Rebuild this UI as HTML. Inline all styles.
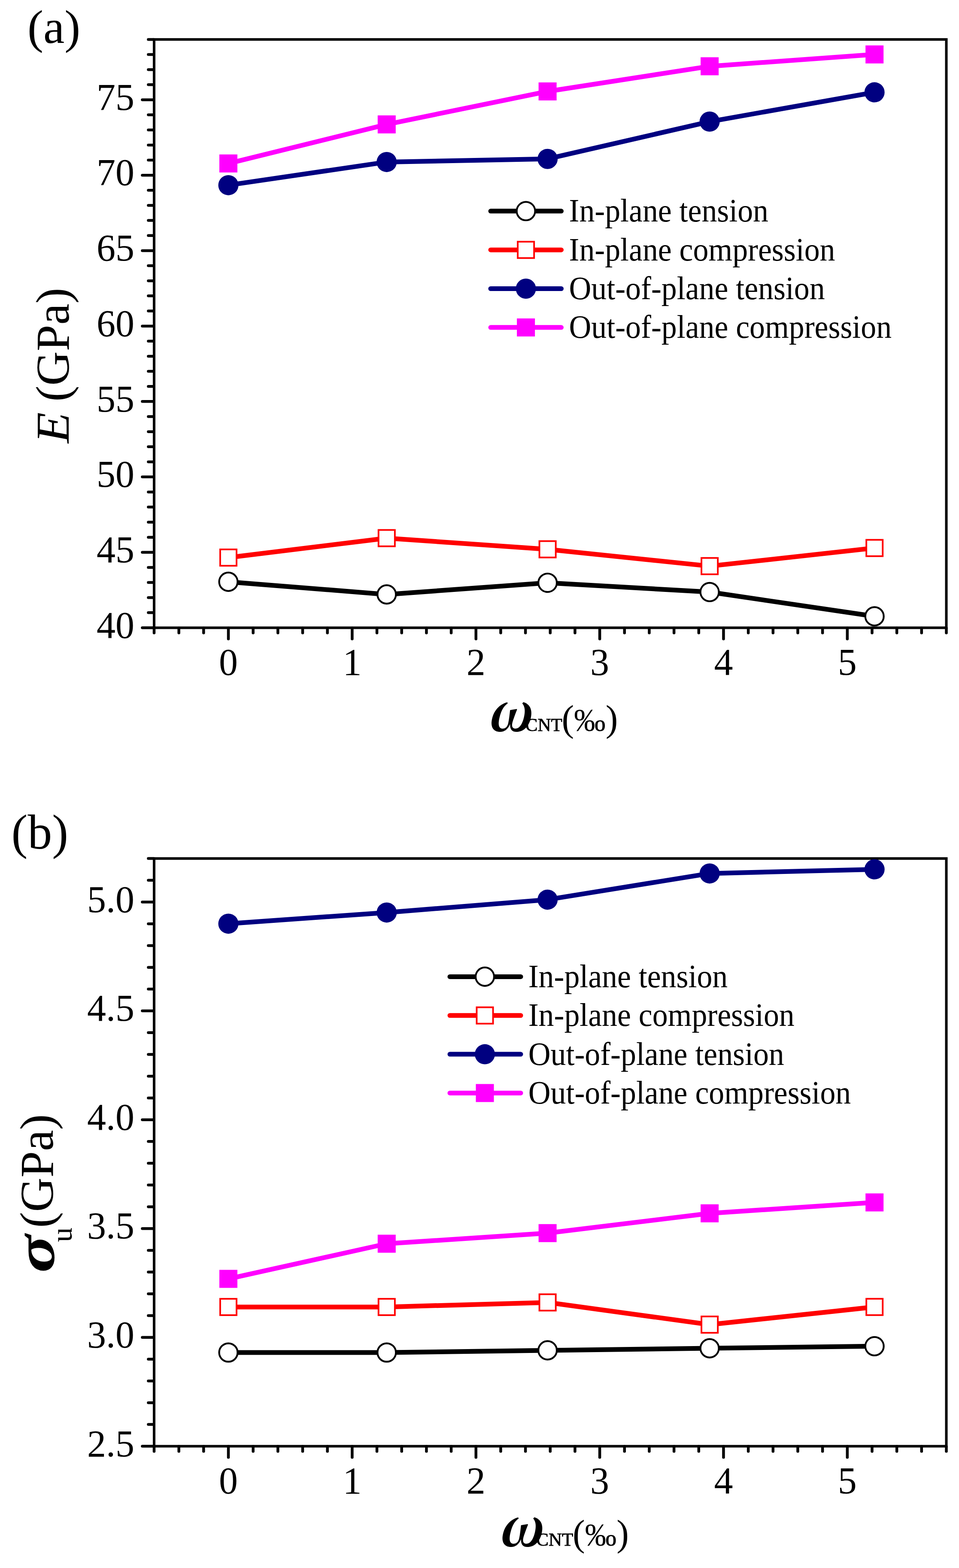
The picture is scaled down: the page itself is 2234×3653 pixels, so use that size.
<!DOCTYPE html><html><head><meta charset="utf-8"><title>Figure</title><style>html,body{margin:0;padding:0;background:#fff;overflow:hidden}svg{display:block}text{font-family:'Liberation Serif','Times New Roman',serif;fill:#000}.tl{font-size:88px} .lg{font-size:71.8px}.tk{stroke:#000;stroke-width:6.5;stroke-linecap:round}.ax{fill:none;stroke:#000;stroke-width:6}</style></head><body>
<svg width="2234" height="3653" viewBox="0 0 2234 3653">
<rect width="2234" height="3653" fill="#fff"/>
<text x="64" y="100.4" style="font-size:111px">(a)</text>
<line x1="358.5" y1="1462.5" x2="331.5" y2="1462.5" class="tk"/>
<line x1="358.5" y1="1427.36" x2="345.5" y2="1427.36" class="tk"/>
<line x1="358.5" y1="1392.21" x2="345.5" y2="1392.21" class="tk"/>
<line x1="358.5" y1="1357.07" x2="345.5" y2="1357.07" class="tk"/>
<line x1="358.5" y1="1321.93" x2="345.5" y2="1321.93" class="tk"/>
<line x1="358.5" y1="1286.78" x2="331.5" y2="1286.78" class="tk"/>
<line x1="358.5" y1="1251.64" x2="345.5" y2="1251.64" class="tk"/>
<line x1="358.5" y1="1216.49" x2="345.5" y2="1216.49" class="tk"/>
<line x1="358.5" y1="1181.35" x2="345.5" y2="1181.35" class="tk"/>
<line x1="358.5" y1="1146.21" x2="345.5" y2="1146.21" class="tk"/>
<line x1="358.5" y1="1111.06" x2="331.5" y2="1111.06" class="tk"/>
<line x1="358.5" y1="1075.92" x2="345.5" y2="1075.92" class="tk"/>
<line x1="358.5" y1="1040.78" x2="345.5" y2="1040.78" class="tk"/>
<line x1="358.5" y1="1005.63" x2="345.5" y2="1005.63" class="tk"/>
<line x1="358.5" y1="970.49" x2="345.5" y2="970.49" class="tk"/>
<line x1="358.5" y1="935.35" x2="331.5" y2="935.35" class="tk"/>
<line x1="358.5" y1="900.2" x2="345.5" y2="900.2" class="tk"/>
<line x1="358.5" y1="865.06" x2="345.5" y2="865.06" class="tk"/>
<line x1="358.5" y1="829.92" x2="345.5" y2="829.92" class="tk"/>
<line x1="358.5" y1="794.77" x2="345.5" y2="794.77" class="tk"/>
<line x1="358.5" y1="759.63" x2="331.5" y2="759.63" class="tk"/>
<line x1="358.5" y1="724.48" x2="345.5" y2="724.48" class="tk"/>
<line x1="358.5" y1="689.34" x2="345.5" y2="689.34" class="tk"/>
<line x1="358.5" y1="654.2" x2="345.5" y2="654.2" class="tk"/>
<line x1="358.5" y1="619.05" x2="345.5" y2="619.05" class="tk"/>
<line x1="358.5" y1="583.91" x2="331.5" y2="583.91" class="tk"/>
<line x1="358.5" y1="548.77" x2="345.5" y2="548.77" class="tk"/>
<line x1="358.5" y1="513.62" x2="345.5" y2="513.62" class="tk"/>
<line x1="358.5" y1="478.48" x2="345.5" y2="478.48" class="tk"/>
<line x1="358.5" y1="443.34" x2="345.5" y2="443.34" class="tk"/>
<line x1="358.5" y1="408.19" x2="331.5" y2="408.19" class="tk"/>
<line x1="358.5" y1="373.05" x2="345.5" y2="373.05" class="tk"/>
<line x1="358.5" y1="337.91" x2="345.5" y2="337.91" class="tk"/>
<line x1="358.5" y1="302.76" x2="345.5" y2="302.76" class="tk"/>
<line x1="358.5" y1="267.62" x2="345.5" y2="267.62" class="tk"/>
<line x1="358.5" y1="232.47" x2="331.5" y2="232.47" class="tk"/>
<line x1="358.5" y1="197.33" x2="345.5" y2="197.33" class="tk"/>
<line x1="358.5" y1="162.19" x2="345.5" y2="162.19" class="tk"/>
<line x1="358.5" y1="127.04" x2="345.5" y2="127.04" class="tk"/>
<line x1="358.5" y1="91.9" x2="345.5" y2="91.9" class="tk"/>
<line x1="359" y1="1463" x2="359" y2="1474.5" class="tk"/>
<line x1="416.67" y1="1463" x2="416.67" y2="1474.5" class="tk"/>
<line x1="474.34" y1="1463" x2="474.34" y2="1474.5" class="tk"/>
<line x1="532.02" y1="1463" x2="532.02" y2="1488.5" class="tk"/>
<line x1="589.69" y1="1463" x2="589.69" y2="1474.5" class="tk"/>
<line x1="647.36" y1="1463" x2="647.36" y2="1474.5" class="tk"/>
<line x1="705.03" y1="1463" x2="705.03" y2="1474.5" class="tk"/>
<line x1="762.7" y1="1463" x2="762.7" y2="1474.5" class="tk"/>
<line x1="820.38" y1="1463" x2="820.38" y2="1488.5" class="tk"/>
<line x1="878.05" y1="1463" x2="878.05" y2="1474.5" class="tk"/>
<line x1="935.72" y1="1463" x2="935.72" y2="1474.5" class="tk"/>
<line x1="993.39" y1="1463" x2="993.39" y2="1474.5" class="tk"/>
<line x1="1051.06" y1="1463" x2="1051.06" y2="1474.5" class="tk"/>
<line x1="1108.73" y1="1463" x2="1108.73" y2="1488.5" class="tk"/>
<line x1="1166.41" y1="1463" x2="1166.41" y2="1474.5" class="tk"/>
<line x1="1224.08" y1="1463" x2="1224.08" y2="1474.5" class="tk"/>
<line x1="1281.75" y1="1463" x2="1281.75" y2="1474.5" class="tk"/>
<line x1="1339.42" y1="1463" x2="1339.42" y2="1474.5" class="tk"/>
<line x1="1397.09" y1="1463" x2="1397.09" y2="1488.5" class="tk"/>
<line x1="1454.77" y1="1463" x2="1454.77" y2="1474.5" class="tk"/>
<line x1="1512.44" y1="1463" x2="1512.44" y2="1474.5" class="tk"/>
<line x1="1570.11" y1="1463" x2="1570.11" y2="1474.5" class="tk"/>
<line x1="1627.78" y1="1463" x2="1627.78" y2="1474.5" class="tk"/>
<line x1="1685.45" y1="1463" x2="1685.45" y2="1488.5" class="tk"/>
<line x1="1743.13" y1="1463" x2="1743.13" y2="1474.5" class="tk"/>
<line x1="1800.8" y1="1463" x2="1800.8" y2="1474.5" class="tk"/>
<line x1="1858.47" y1="1463" x2="1858.47" y2="1474.5" class="tk"/>
<line x1="1916.14" y1="1463" x2="1916.14" y2="1474.5" class="tk"/>
<line x1="1973.81" y1="1463" x2="1973.81" y2="1488.5" class="tk"/>
<line x1="2031.48" y1="1463" x2="2031.48" y2="1474.5" class="tk"/>
<line x1="2089.16" y1="1463" x2="2089.16" y2="1474.5" class="tk"/>
<line x1="2146.83" y1="1463" x2="2146.83" y2="1474.5" class="tk"/>
<line x1="2204.5" y1="1463" x2="2204.5" y2="1474.5" class="tk"/>
<rect x="359" y="91.9" width="1845.5" height="1370.6" class="ax"/>
<text x="313" y="1485.7" class="tl" text-anchor="end">40</text>
<text x="313" y="1309.98" class="tl" text-anchor="end">45</text>
<text x="313" y="1134.26" class="tl" text-anchor="end">50</text>
<text x="313" y="958.55" class="tl" text-anchor="end">55</text>
<text x="313" y="782.83" class="tl" text-anchor="end">60</text>
<text x="313" y="607.11" class="tl" text-anchor="end">65</text>
<text x="313" y="431.39" class="tl" text-anchor="end">70</text>
<text x="313" y="255.67" class="tl" text-anchor="end">75</text>
<text x="532.02" y="1572" class="tl" text-anchor="middle">0</text>
<text x="820.38" y="1572" class="tl" text-anchor="middle">1</text>
<text x="1108.73" y="1572" class="tl" text-anchor="middle">2</text>
<text x="1397.09" y="1572" class="tl" text-anchor="middle">3</text>
<text x="1685.45" y="1572" class="tl" text-anchor="middle">4</text>
<text x="1973.81" y="1572" class="tl" text-anchor="middle">5</text>
<path d="M532,1355.4 L900.8,1384.9 L1275.6,1357.7 L1653.1,1379.3 L2037.2,1435.9" fill="none" stroke="#000" stroke-width="11" stroke-linejoin="round"/>
<circle cx="532" cy="1355.4" r="21.45" fill="#fff" stroke="#000" stroke-width="4.2"/>
<circle cx="900.8" cy="1384.9" r="21.45" fill="#fff" stroke="#000" stroke-width="4.2"/>
<circle cx="1275.6" cy="1357.7" r="21.45" fill="#fff" stroke="#000" stroke-width="4.2"/>
<circle cx="1653.1" cy="1379.3" r="21.45" fill="#fff" stroke="#000" stroke-width="4.2"/>
<circle cx="2037.2" cy="1435.9" r="21.45" fill="#fff" stroke="#000" stroke-width="4.2"/>
<path d="M532,1299 L900.8,1253.7 L1275.6,1279.7 L1653.1,1318.9 L2037.2,1276.7" fill="none" stroke="#f00" stroke-width="11" stroke-linejoin="round"/>
<rect x="512.95" y="1279.95" width="38.1" height="38.1" fill="#fff" stroke="#f00" stroke-width="3.9"/>
<rect x="881.75" y="1234.65" width="38.1" height="38.1" fill="#fff" stroke="#f00" stroke-width="3.9"/>
<rect x="1256.55" y="1260.65" width="38.1" height="38.1" fill="#fff" stroke="#f00" stroke-width="3.9"/>
<rect x="1634.05" y="1299.85" width="38.1" height="38.1" fill="#fff" stroke="#f00" stroke-width="3.9"/>
<rect x="2018.15" y="1257.65" width="38.1" height="38.1" fill="#fff" stroke="#f00" stroke-width="3.9"/>
<path d="M532,431.4 L900.8,377.4 L1275.6,370.2 L1653.1,283.3 L2037.2,215.1" fill="none" stroke="#000080" stroke-width="11" stroke-linejoin="round"/>
<circle cx="532" cy="431.4" r="23.5" fill="#000080"/>
<circle cx="900.8" cy="377.4" r="23.5" fill="#000080"/>
<circle cx="1275.6" cy="370.2" r="23.5" fill="#000080"/>
<circle cx="1653.1" cy="283.3" r="23.5" fill="#000080"/>
<circle cx="2037.2" cy="215.1" r="23.5" fill="#000080"/>
<path d="M532,380.8 L900.8,289.8 L1275.6,213 L1653.1,154.4 L2037.2,126.8" fill="none" stroke="#f0f" stroke-width="11" stroke-linejoin="round"/>
<rect x="511" y="359.8" width="42" height="42" fill="#f0f"/>
<rect x="879.8" y="268.8" width="42" height="42" fill="#f0f"/>
<rect x="1254.6" y="192" width="42" height="42" fill="#f0f"/>
<rect x="1632.1" y="133.4" width="42" height="42" fill="#f0f"/>
<rect x="2016.2" y="105.8" width="42" height="42" fill="#f0f"/>
<line x1="1143" y1="491.8" x2="1307.5" y2="491.8" stroke="#000" stroke-width="11" stroke-linecap="round"/>
<circle cx="1225.1" cy="491.8" r="21.45" fill="#fff" stroke="#000" stroke-width="4.2"/>
<text transform="translate(1325.5,516.3) scale(1,1.065)" class="lg">In-plane tension</text>
<line x1="1143" y1="582.15" x2="1307.5" y2="582.15" stroke="#f00" stroke-width="11" stroke-linecap="round"/>
<rect x="1206.05" y="563.1" width="38.1" height="38.1" fill="#fff" stroke="#f00" stroke-width="3.9"/>
<text transform="translate(1325.5,606.65) scale(1,1.065)" class="lg">In-plane compression</text>
<line x1="1143" y1="672.5" x2="1307.5" y2="672.5" stroke="#000080" stroke-width="11" stroke-linecap="round"/>
<circle cx="1225.1" cy="672.5" r="23.5" fill="#000080"/>
<text transform="translate(1325.5,697) scale(1,1.065)" class="lg">Out-of-plane tension</text>
<line x1="1143" y1="762.85" x2="1307.5" y2="762.85" stroke="#f0f" stroke-width="11" stroke-linecap="round"/>
<rect x="1204.1" y="741.85" width="42" height="42" fill="#f0f"/>
<text transform="translate(1325.5,787.35) scale(1,1.065)" class="lg">Out-of-plane compression</text>
<text transform="translate(160.3,1032.6) rotate(-90) scale(1.073,1)" style="font-size:110px;font-style:italic">E</text>
<text transform="translate(160.3,935.4) rotate(-90)" style="font-size:111px">(GPa)</text>
<text transform="translate(1134,1703) scale(0.95,1)" style="font-family:'Noto Serif CJK SC','Liberation Serif',serif;font-size:121px;font-weight:900;font-style:italic">ω</text>
<text x="1223.8" y="1702.8" style="font-size:43px;stroke:#000;stroke-width:0.9">CNT</text>
<text x="1308.5" y="1702.5" style="font-size:86px">(<tspan style="font-size:73.5px">‰</tspan>)</text>
<text x="26.6" y="1976.8" style="font-size:113.5px">(b)</text>
<line x1="358.5" y1="3369.3" x2="331.5" y2="3369.3" class="tk"/>
<line x1="358.5" y1="3318.59" x2="345.5" y2="3318.59" class="tk"/>
<line x1="358.5" y1="3267.88" x2="345.5" y2="3267.88" class="tk"/>
<line x1="358.5" y1="3217.17" x2="345.5" y2="3217.17" class="tk"/>
<line x1="358.5" y1="3166.46" x2="345.5" y2="3166.46" class="tk"/>
<line x1="358.5" y1="3115.74" x2="331.5" y2="3115.74" class="tk"/>
<line x1="358.5" y1="3065.03" x2="345.5" y2="3065.03" class="tk"/>
<line x1="358.5" y1="3014.32" x2="345.5" y2="3014.32" class="tk"/>
<line x1="358.5" y1="2963.61" x2="345.5" y2="2963.61" class="tk"/>
<line x1="358.5" y1="2912.9" x2="345.5" y2="2912.9" class="tk"/>
<line x1="358.5" y1="2862.19" x2="331.5" y2="2862.19" class="tk"/>
<line x1="358.5" y1="2811.48" x2="345.5" y2="2811.48" class="tk"/>
<line x1="358.5" y1="2760.77" x2="345.5" y2="2760.77" class="tk"/>
<line x1="358.5" y1="2710.06" x2="345.5" y2="2710.06" class="tk"/>
<line x1="358.5" y1="2659.34" x2="345.5" y2="2659.34" class="tk"/>
<line x1="358.5" y1="2608.63" x2="331.5" y2="2608.63" class="tk"/>
<line x1="358.5" y1="2557.92" x2="345.5" y2="2557.92" class="tk"/>
<line x1="358.5" y1="2507.21" x2="345.5" y2="2507.21" class="tk"/>
<line x1="358.5" y1="2456.5" x2="345.5" y2="2456.5" class="tk"/>
<line x1="358.5" y1="2405.79" x2="345.5" y2="2405.79" class="tk"/>
<line x1="358.5" y1="2355.08" x2="331.5" y2="2355.08" class="tk"/>
<line x1="358.5" y1="2304.37" x2="345.5" y2="2304.37" class="tk"/>
<line x1="358.5" y1="2253.66" x2="345.5" y2="2253.66" class="tk"/>
<line x1="358.5" y1="2202.94" x2="345.5" y2="2202.94" class="tk"/>
<line x1="358.5" y1="2152.23" x2="345.5" y2="2152.23" class="tk"/>
<line x1="358.5" y1="2101.52" x2="331.5" y2="2101.52" class="tk"/>
<line x1="358.5" y1="2050.81" x2="345.5" y2="2050.81" class="tk"/>
<line x1="358.5" y1="2000.1" x2="345.5" y2="2000.1" class="tk"/>
<line x1="359" y1="3369.8" x2="359" y2="3381.3" class="tk"/>
<line x1="416.67" y1="3369.8" x2="416.67" y2="3381.3" class="tk"/>
<line x1="474.34" y1="3369.8" x2="474.34" y2="3381.3" class="tk"/>
<line x1="532.02" y1="3369.8" x2="532.02" y2="3395.3" class="tk"/>
<line x1="589.69" y1="3369.8" x2="589.69" y2="3381.3" class="tk"/>
<line x1="647.36" y1="3369.8" x2="647.36" y2="3381.3" class="tk"/>
<line x1="705.03" y1="3369.8" x2="705.03" y2="3381.3" class="tk"/>
<line x1="762.7" y1="3369.8" x2="762.7" y2="3381.3" class="tk"/>
<line x1="820.38" y1="3369.8" x2="820.38" y2="3395.3" class="tk"/>
<line x1="878.05" y1="3369.8" x2="878.05" y2="3381.3" class="tk"/>
<line x1="935.72" y1="3369.8" x2="935.72" y2="3381.3" class="tk"/>
<line x1="993.39" y1="3369.8" x2="993.39" y2="3381.3" class="tk"/>
<line x1="1051.06" y1="3369.8" x2="1051.06" y2="3381.3" class="tk"/>
<line x1="1108.73" y1="3369.8" x2="1108.73" y2="3395.3" class="tk"/>
<line x1="1166.41" y1="3369.8" x2="1166.41" y2="3381.3" class="tk"/>
<line x1="1224.08" y1="3369.8" x2="1224.08" y2="3381.3" class="tk"/>
<line x1="1281.75" y1="3369.8" x2="1281.75" y2="3381.3" class="tk"/>
<line x1="1339.42" y1="3369.8" x2="1339.42" y2="3381.3" class="tk"/>
<line x1="1397.09" y1="3369.8" x2="1397.09" y2="3395.3" class="tk"/>
<line x1="1454.77" y1="3369.8" x2="1454.77" y2="3381.3" class="tk"/>
<line x1="1512.44" y1="3369.8" x2="1512.44" y2="3381.3" class="tk"/>
<line x1="1570.11" y1="3369.8" x2="1570.11" y2="3381.3" class="tk"/>
<line x1="1627.78" y1="3369.8" x2="1627.78" y2="3381.3" class="tk"/>
<line x1="1685.45" y1="3369.8" x2="1685.45" y2="3395.3" class="tk"/>
<line x1="1743.13" y1="3369.8" x2="1743.13" y2="3381.3" class="tk"/>
<line x1="1800.8" y1="3369.8" x2="1800.8" y2="3381.3" class="tk"/>
<line x1="1858.47" y1="3369.8" x2="1858.47" y2="3381.3" class="tk"/>
<line x1="1916.14" y1="3369.8" x2="1916.14" y2="3381.3" class="tk"/>
<line x1="1973.81" y1="3369.8" x2="1973.81" y2="3395.3" class="tk"/>
<line x1="2031.48" y1="3369.8" x2="2031.48" y2="3381.3" class="tk"/>
<line x1="2089.16" y1="3369.8" x2="2089.16" y2="3381.3" class="tk"/>
<line x1="2146.83" y1="3369.8" x2="2146.83" y2="3381.3" class="tk"/>
<line x1="2204.5" y1="3369.8" x2="2204.5" y2="3381.3" class="tk"/>
<rect x="359" y="2000.1" width="1845.5" height="1369.2" class="ax"/>
<text x="313" y="3392.5" class="tl" text-anchor="end">2.5</text>
<text x="313" y="3138.94" class="tl" text-anchor="end">3.0</text>
<text x="313" y="2885.39" class="tl" text-anchor="end">3.5</text>
<text x="313" y="2631.83" class="tl" text-anchor="end">4.0</text>
<text x="313" y="2378.28" class="tl" text-anchor="end">4.5</text>
<text x="313" y="2124.72" class="tl" text-anchor="end">5.0</text>
<text x="532.02" y="3478.8" class="tl" text-anchor="middle">0</text>
<text x="820.38" y="3478.8" class="tl" text-anchor="middle">1</text>
<text x="1108.73" y="3478.8" class="tl" text-anchor="middle">2</text>
<text x="1397.09" y="3478.8" class="tl" text-anchor="middle">3</text>
<text x="1685.45" y="3478.8" class="tl" text-anchor="middle">4</text>
<text x="1973.81" y="3478.8" class="tl" text-anchor="middle">5</text>
<path d="M532,3151 L900.8,3151 L1275.6,3145.9 L1653.1,3141.1 L2037.2,3136.3" fill="none" stroke="#000" stroke-width="11" stroke-linejoin="round"/>
<circle cx="532" cy="3151" r="21.45" fill="#fff" stroke="#000" stroke-width="4.2"/>
<circle cx="900.8" cy="3151" r="21.45" fill="#fff" stroke="#000" stroke-width="4.2"/>
<circle cx="1275.6" cy="3145.9" r="21.45" fill="#fff" stroke="#000" stroke-width="4.2"/>
<circle cx="1653.1" cy="3141.1" r="21.45" fill="#fff" stroke="#000" stroke-width="4.2"/>
<circle cx="2037.2" cy="3136.3" r="21.45" fill="#fff" stroke="#000" stroke-width="4.2"/>
<path d="M532,3044.9 L900.8,3044.9 L1275.6,3034.3 L1653.1,3086 L2037.2,3044.8" fill="none" stroke="#f00" stroke-width="11" stroke-linejoin="round"/>
<rect x="512.95" y="3025.85" width="38.1" height="38.1" fill="#fff" stroke="#f00" stroke-width="3.9"/>
<rect x="881.75" y="3025.85" width="38.1" height="38.1" fill="#fff" stroke="#f00" stroke-width="3.9"/>
<rect x="1256.55" y="3015.25" width="38.1" height="38.1" fill="#fff" stroke="#f00" stroke-width="3.9"/>
<rect x="1634.05" y="3066.95" width="38.1" height="38.1" fill="#fff" stroke="#f00" stroke-width="3.9"/>
<rect x="2018.15" y="3025.75" width="38.1" height="38.1" fill="#fff" stroke="#f00" stroke-width="3.9"/>
<path d="M532,2151.9 L900.8,2125.9 L1275.6,2095.9 L1653.1,2034.9 L2037.2,2025.3" fill="none" stroke="#000080" stroke-width="11" stroke-linejoin="round"/>
<circle cx="532" cy="2151.9" r="23.5" fill="#000080"/>
<circle cx="900.8" cy="2125.9" r="23.5" fill="#000080"/>
<circle cx="1275.6" cy="2095.9" r="23.5" fill="#000080"/>
<circle cx="1653.1" cy="2034.9" r="23.5" fill="#000080"/>
<circle cx="2037.2" cy="2025.3" r="23.5" fill="#000080"/>
<path d="M532,2979.4 L900.8,2897.5 L1275.6,2872.8 L1653.1,2826.7 L2037.2,2801.3" fill="none" stroke="#f0f" stroke-width="11" stroke-linejoin="round"/>
<rect x="511" y="2958.4" width="42" height="42" fill="#f0f"/>
<rect x="879.8" y="2876.5" width="42" height="42" fill="#f0f"/>
<rect x="1254.6" y="2851.8" width="42" height="42" fill="#f0f"/>
<rect x="1632.1" y="2805.7" width="42" height="42" fill="#f0f"/>
<rect x="2016.2" y="2780.3" width="42" height="42" fill="#f0f"/>
<line x1="1048" y1="2275.4" x2="1213" y2="2275.4" stroke="#000" stroke-width="11" stroke-linecap="round"/>
<circle cx="1129.5" cy="2275.4" r="21.45" fill="#fff" stroke="#000" stroke-width="4.2"/>
<text transform="translate(1230.7,2299.9) scale(1,1.065)" class="lg">In-plane tension</text>
<line x1="1048" y1="2365.75" x2="1213" y2="2365.75" stroke="#f00" stroke-width="11" stroke-linecap="round"/>
<rect x="1110.45" y="2346.7" width="38.1" height="38.1" fill="#fff" stroke="#f00" stroke-width="3.9"/>
<text transform="translate(1230.7,2390.25) scale(1,1.065)" class="lg">In-plane compression</text>
<line x1="1048" y1="2456.1" x2="1213" y2="2456.1" stroke="#000080" stroke-width="11" stroke-linecap="round"/>
<circle cx="1129.5" cy="2456.1" r="23.5" fill="#000080"/>
<text transform="translate(1230.7,2480.6) scale(1,1.065)" class="lg">Out-of-plane tension</text>
<line x1="1048" y1="2546.45" x2="1213" y2="2546.45" stroke="#f0f" stroke-width="11" stroke-linecap="round"/>
<rect x="1108.5" y="2525.45" width="42" height="42" fill="#f0f"/>
<text transform="translate(1230.7,2570.95) scale(1,1.065)" class="lg">Out-of-plane compression</text>
<text transform="translate(125.5,2965.3) rotate(-90) scale(1.267,1)" style="font-size:130px;font-weight:bold;font-style:italic">σ</text>
<text transform="translate(167.1,2893.7) rotate(-90)" style="font-size:68px">u</text>
<text transform="translate(123.2,2860.5) rotate(-90)" style="font-size:111px">(GPa)</text>
<text transform="translate(1159.5,3601.5) scale(0.95,1)" style="font-family:'Noto Serif CJK SC','Liberation Serif',serif;font-size:121px;font-weight:900;font-style:italic">ω</text>
<text x="1249.3" y="3601.3" style="font-size:43px;stroke:#000;stroke-width:0.9">CNT</text>
<text x="1334" y="3601" style="font-size:86px">(<tspan style="font-size:73.5px">‰</tspan>)</text>
</svg></body></html>
